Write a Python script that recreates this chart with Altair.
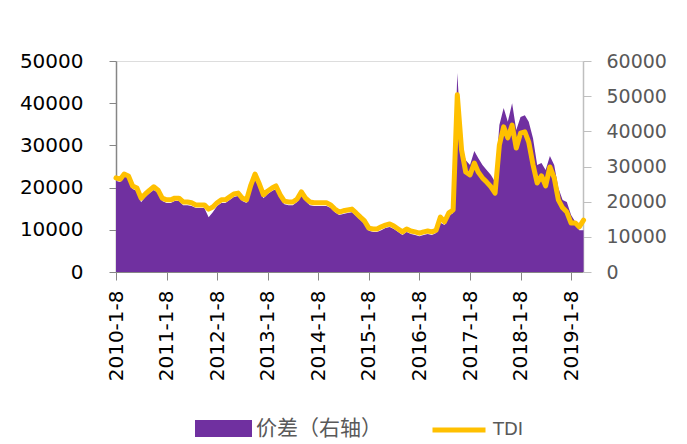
import altair as alt
import pandas as pd

# monthly observation dates (day 8 of each month), 2010-01 .. 2019-04
dates = [f"{2010 + i // 12}-{i % 12 + 1:02d}-08" for i in range(112)]

# TDI (left axis)
tdi = [
    22300, 22000, 23200, 22750, 20400, 19900, 17500, 18500, 19400, 20200, 19400, 17500,
    17100, 17100, 17500, 17500, 16600, 16600, 16400, 15900, 15900, 15900, 14900, 15400,
    16400, 17100, 17100, 17800, 18500, 18700, 17500, 17100, 20600, 23200, 20900, 18300,
    19200, 19900, 20400, 18300, 16800, 16600, 16600, 17300, 19000, 17500, 16600, 16400,
    16400, 16400, 16400, 15900, 14900, 14200, 14500, 14700, 14900, 14000, 13000, 12100,
    10400, 10200, 10200, 10700, 11100, 11400, 10900, 10200, 9500, 10200, 9700, 9500,
    9200, 9500, 9700, 9500, 9900, 13000, 11900, 14000, 14700, 42000, 28900, 23700,
    23000, 25800, 23700, 22300, 21300, 20200, 18700, 30100, 34400, 31800, 34800, 29400,
    32900, 33200, 30800, 25400, 21100, 22800, 20400, 24900, 22300, 17100, 15200, 14200,
    11600, 11600, 10700, 12300,
]

# 价差 (right axis)
spread = [
    25900, 25600, 28400, 26400, 23600, 23000, 19800, 21300, 22500, 23300, 22500, 20200,
    19600, 19600, 20200, 20200, 19000, 19000, 18800, 18200, 18200, 18200, 15600, 17000,
    18800, 19600, 19600, 20500, 21300, 21600, 20200, 19600, 23900, 26200, 24200, 21000,
    22200, 23000, 23600, 21000, 19300, 19000, 19000, 19900, 21900, 20200, 19000, 18800,
    18800, 18800, 18800, 18200, 17000, 16200, 16500, 16800, 17000, 15900, 14800, 13600,
    11700, 11400, 11400, 11900, 12500, 12800, 12200, 11400, 10500, 11400, 10800, 10500,
    10200, 10500, 10800, 10500, 11100, 14000, 13400, 15900, 16800, 56600, 36000, 31800,
    30400, 34400, 32400, 30400, 29000, 27600, 25600, 41800, 46600, 42700, 48000, 40400,
    44100, 44600, 42700, 38000, 30400, 31000, 29000, 33000, 30400, 23900, 20500, 19900,
    16200, 14200, 11900, 11900,
]

spread_name = "价差（右轴）"
tdi_name = "TDI"
left_ticks = [0, 10000, 20000, 30000, 40000, 50000]
right_ticks = [0, 10000, 20000, 30000, 40000, 50000, 60000]
tick_years = list(range(2010, 2020))

df = pd.DataFrame({"date": dates, "tdi": tdi, "spread": spread})
df["s"] = spread_name
df["t"] = tdi_name

x_enc = alt.X(
    "date:T",
    scale=alt.Scale(
        type="utc",
        domain=[
            alt.DateTime(year=2010, month=1, date=8, utc=True),
            alt.DateTime(year=2019, month=4, date=4, utc=True),
        ],
    ),
    axis=alt.Axis(
        values=[alt.DateTime(year=y, month=1, date=8, utc=True) for y in tick_years],
        labelExpr="utcFormat(datum.value, '%Y-%-m-%-d')",
        labelAngle=270,
        labelFont="DejaVu Sans",
        labelFontSize=20,
        labelColor="#000000",
        tickSize=8,
        tickColor="#868686",
        domainColor="#868686",
        labelPadding=10,
        grid=False,
        title=None,
        labelOverlap=False,
        labelFlush=False,
    ),
)

area = (
    alt.Chart(df)
    .mark_area(opacity=1)
    .encode(
        x=x_enc,
        y=alt.Y(
            "spread:Q",
            scale=alt.Scale(domain=[0, 60000], nice=False),
            axis=alt.Axis(
                orient="right",
                values=right_ticks,
                format="d",
                labelFont="DejaVu Sans",
                labelFontSize=19,
                labelColor="#595959",
                tickSize=8,
                tickColor="#BFBFBF",
                domainColor="#BFBFBF",
                domainWidth=1.5,
                labelPadding=15,
                grid=False,
                title=None,
            ),
        ),
        fill=alt.Fill(
            "s:N",
            scale=alt.Scale(domain=[spread_name], range=["#7030A0"]),
            legend=alt.Legend(
                orient="none",
                legendX=79,
                legendY=339,
                title=None,
                padding=0,
                symbolType="M-1,-0.3H1V0.3H-1Z",
                symbolSize=3249,
                symbolStrokeWidth=0,
                symbolOpacity=1,
                labelFont="Noto Sans CJK SC",
                labelFontSize=21,
                labelColor="#595959",
                labelOffset=4,
            ),
        ),
    )
)

line = (
    alt.Chart(df)
    .mark_line(strokeWidth=5, strokeJoin="round", strokeCap="round")
    .encode(
        x=x_enc,
        y=alt.Y(
            "tdi:Q",
            scale=alt.Scale(domain=[0, 50000], nice=False),
            axis=alt.Axis(
                orient="left",
                values=left_ticks,
                format="d",
                labelFont="DejaVu Sans",
                labelFontSize=20,
                labelColor="#000000",
                tickSize=7,
                tickColor="#868686",
                domainColor="#868686",
                domainWidth=1.5,
                labelPadding=26,
                grid=False,
                title=None,
            ),
        ),
        stroke=alt.Stroke(
            "t:N",
            scale=alt.Scale(domain=[tdi_name], range=["#FFC000"]),
            legend=alt.Legend(
                orient="none",
                legendX=314,
                legendY=340,
                title=None,
                padding=0,
                symbolType="stroke",
                symbolSize=2809,
                symbolStrokeWidth=5,
                labelFont="DejaVu Sans",
                labelFontSize=18,
                labelColor="#595959",
                labelOffset=5,
            ),
        ),
    )
)

chart = (
    alt.layer(area, line)
    .resolve_scale(y="independent", fill="independent", stroke="independent")
    .properties(
        width=467,
        height=211,
        autosize=alt.AutoSizeParams(type="none"),
        padding={"left": 108, "top": 53, "right": 96, "bottom": 170},
    )
    .configure_view(stroke=None)
    .configure(background="white")
)

chart.save("out.html", embed_options={"renderer": "svg", "actions": False})
